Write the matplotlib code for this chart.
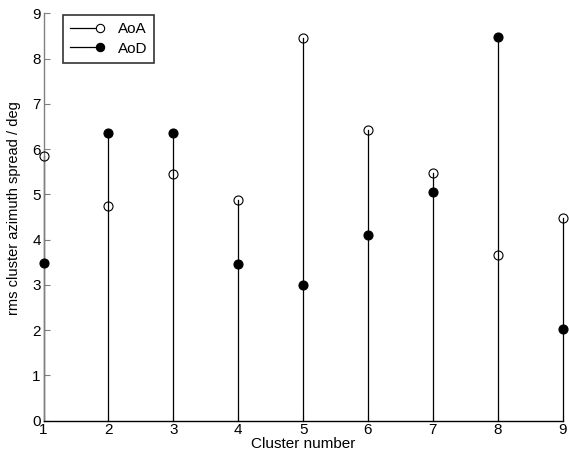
import matplotlib
matplotlib.use("Agg")
import matplotlib.pyplot as plt
from matplotlib.lines import Line2D
from matplotlib.legend_handler import HandlerBase

clusters = [1, 2, 3, 4, 5, 6, 7, 8, 9]
aoa = [5.85, 4.75, 5.45, 4.88, 8.45, 6.43, 5.47, 3.65, 4.47]
aod = [3.48, 6.35, 6.35, 3.47, 3.00, 4.10, 5.05, 8.47, 2.02]

plt.rcParams['font.family'] = ['Liberation Sans', 'DejaVu Sans']
W, H = 569, 462
fig = plt.figure(figsize=(W / 100, H / 100), dpi=100)
ax = fig.add_axes([43.5 / W, 1 - 420.7 / H, (562.7 - 43.5) / W, (420.7 - 13.3) / H])

for x, a, d in zip(clusters, aoa, aod):
    ax.plot([x, x], [0, max(a, d)], color='black', lw=0.9, zorder=2, clip_on=False)
ax.plot(clusters, aoa, 'o', mfc='none', mec='black', ms=6.5, mew=0.8, zorder=3, clip_on=False)
ax.plot(clusters, aod, 'o', mfc='black', mec='black', ms=6.5, mew=0.8, zorder=3, clip_on=False)

ax.set_xlim(1, 9)
ax.set_ylim(0, 9)
ax.set_xticks(clusters)
ax.set_yticks(range(0, 10))
ax.spines['top'].set_visible(False)
ax.spines['right'].set_visible(False)
ax.spines['left'].set_color('#808080')
ax.spines['bottom'].set_color('black')
ax.spines['left'].set_linewidth(1.0)
ax.spines['bottom'].set_linewidth(1.0)
ax.tick_params(direction='in', length=4, color='#808080', labelsize=11, pad=2)
ax.set_xlabel('Cluster number', fontsize=11, labelpad=0)
ax.set_ylabel('rms cluster azimuth spread / deg', fontsize=10.5)
ax.yaxis.set_label_coords(-0.043, 0.522)


class EndMarkerHandler(HandlerBase):
    def create_artists(self, legend, orig_handle, xdescent, ydescent,
                       width, height, fontsize, trans):
        y = (height - ydescent) / 2.0
        x0, x1 = -xdescent, -xdescent + width
        line = Line2D([x0, x1], [y, y], color='black', lw=0.9, transform=trans)
        mk = Line2D([x1], [y], linestyle='none', marker='o',
                    mfc=orig_handle.get_markerfacecolor(), mec='black',
                    ms=6, mew=0.8, transform=trans)
        return [line, mk]


handles = [Line2D([], [], marker='o', mfc='white'),
           Line2D([], [], marker='o', mfc='black')]
leg = ax.legend(handles, ['AoA', 'AoD'], loc='upper left',
                bbox_to_anchor=(63 / W, 1 - 15 / H), bbox_transform=fig.transFigure,
                borderaxespad=0, handler_map={Line2D: EndMarkerHandler()},
                fontsize=11, frameon=True, fancybox=False, edgecolor='black',
                handlelength=2.0, borderpad=0.45, labelspacing=0.38, handletextpad=1.15)
leg.get_frame().set_linewidth(1.2)
fig.savefig('out.png', dpi=100)
